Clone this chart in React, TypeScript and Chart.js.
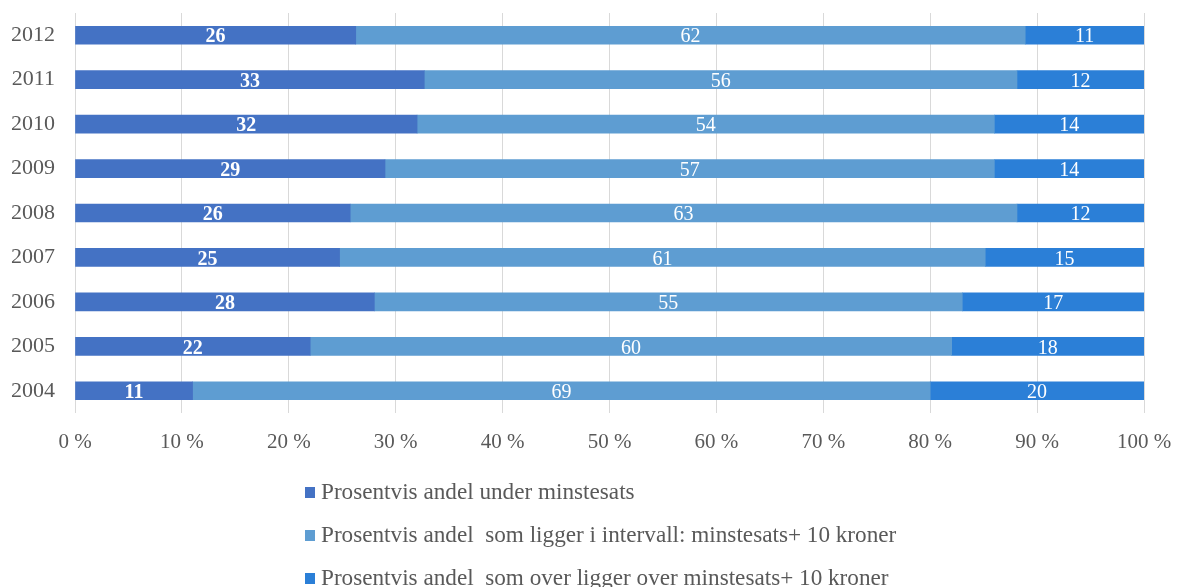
import React, { useEffect, useRef } from "react";
import { Chart, registerables } from "chart.js";

Chart.register(...registerables);

const years = ["2012", "2011", "2010", "2009", "2008", "2007", "2006", "2005", "2004"];
const underMin = [26, 33, 32, 29, 26, 25, 28, 22, 11];
const inInterval = [62, 56, 54, 57, 63, 61, 55, 60, 69];
const overInterval = [11, 12, 14, 14, 12, 15, 17, 18, 20];
const seriesNames = [
  "Prosentvis andel under minstesats",
  "Prosentvis andel  som ligger i intervall: minstesats+ 10 kroner",
  "Prosentvis andel  som over ligger over minstesats+ 10 kroner",
];
const seriesColors = ["#4472C4", "#5E9DD2", "#2B7FD7"];
const xTicks = [0, 10, 20, 30, 40, 50, 60, 70, 80, 90, 100];

const FONT = "'Liberation Serif', 'DejaVu Serif', serif";

const rawSeries = [underMin, inInterval, overInterval];
const totals = years.map((_, i) => rawSeries.reduce((s, arr) => s + arr[i], 0));
const pct = (arr: number[]) => arr.map((v, i) => (v / totals[i]) * 100);

const labelPlugin = {
  id: "barLabels",
  afterDatasetsDraw(chart: any) {
    const ctx = chart.ctx;
    ctx.save();
    chart.data.datasets.forEach((ds: any, di: number) => {
      const meta = chart.getDatasetMeta(di);
      meta.data.forEach((el: any, i: number) => {
        const cx = (el.x + el.base) / 2;
        ctx.fillStyle = "#ffffff";
        ctx.font = (di === 0 ? "bold " : "") + "20px " + FONT;
        ctx.textAlign = "center";
        ctx.textBaseline = "middle";
        ctx.fillText(String(rawSeries[di][i]), cx, el.y + 2);
      });
    });
    ctx.restore();
  },
};

const legendPlugin = {
  id: "vertLegend",
  afterDraw(chart: any) {
    const ctx = chart.ctx;
    ctx.save();
    const top = chart.chartArea.bottom + 79;
    seriesNames.forEach((name, i) => {
      const y = top + i * 43;
      ctx.fillStyle = seriesColors[i];
      ctx.fillRect(305, y - 5, 10, 11);
      ctx.fillStyle = "#595959";
      ctx.font = "23.2px " + FONT;
      ctx.textAlign = "left";
      ctx.textBaseline = "middle";
      ctx.fillText(name, 321, y + 1);
    });
    ctx.restore();
  },
};

export default function App() {
  const ref = useRef<HTMLCanvasElement>(null);
  useEffect(() => {
    if (!ref.current) return;
    const chart = new Chart(ref.current, {
      type: "bar",
      data: {
        labels: years,
        datasets: rawSeries.map((arr, i) => ({
          label: seriesNames[i],
          data: pct(arr),
          backgroundColor: seriesColors[i],
          borderWidth: 0,
          barThickness: 18,
        })),
      },
      options: {
        indexAxis: "y",
        animation: false,
        responsive: true,
        maintainAspectRatio: false,
        layout: { padding: { top: 13, right: 36, bottom: 125, left: 0 } },
        plugins: {
          legend: { display: false },
          tooltip: { enabled: false },
        },
        scales: {
          x: {
            stacked: true,
            min: 0,
            max: 100,
            afterBuildTicks: (scale: any) => {
              scale.ticks = xTicks.map((v) => ({ value: v }));
            },
            afterFit: (scale: any) => {
              scale.height = 49;
              scale.paddingLeft = 0;
              scale.paddingRight = 0;
            },
            ticks: {
              padding: 17,
              color: "#595959",
              font: { family: FONT, size: 21 },
              callback: (v: any) => v + " %",
            },
            grid: { color: "#d9d9d9", drawTicks: false, lineWidth: 1 },
            border: { display: false },
          },
          y: {
            stacked: true,
            afterFit: (scale: any) => {
              scale.width = 75;
              scale.paddingTop = 0;
              scale.paddingBottom = 0;
            },
            ticks: {
              padding: 20,
              color: "#595959",
              font: { family: FONT, size: 22 },
            },
            grid: { display: false, drawTicks: false },
            border: { display: false },
          },
        },
      },
      plugins: [labelPlugin, legendPlugin],
    } as any);
    return () => chart.destroy();
  }, []);
  return (
    <div style={{ position: "fixed", left: 0, top: 0, width: 1180, height: 587, background: "#fff" }}>
      <canvas ref={ref} />
    </div>
  );
}
